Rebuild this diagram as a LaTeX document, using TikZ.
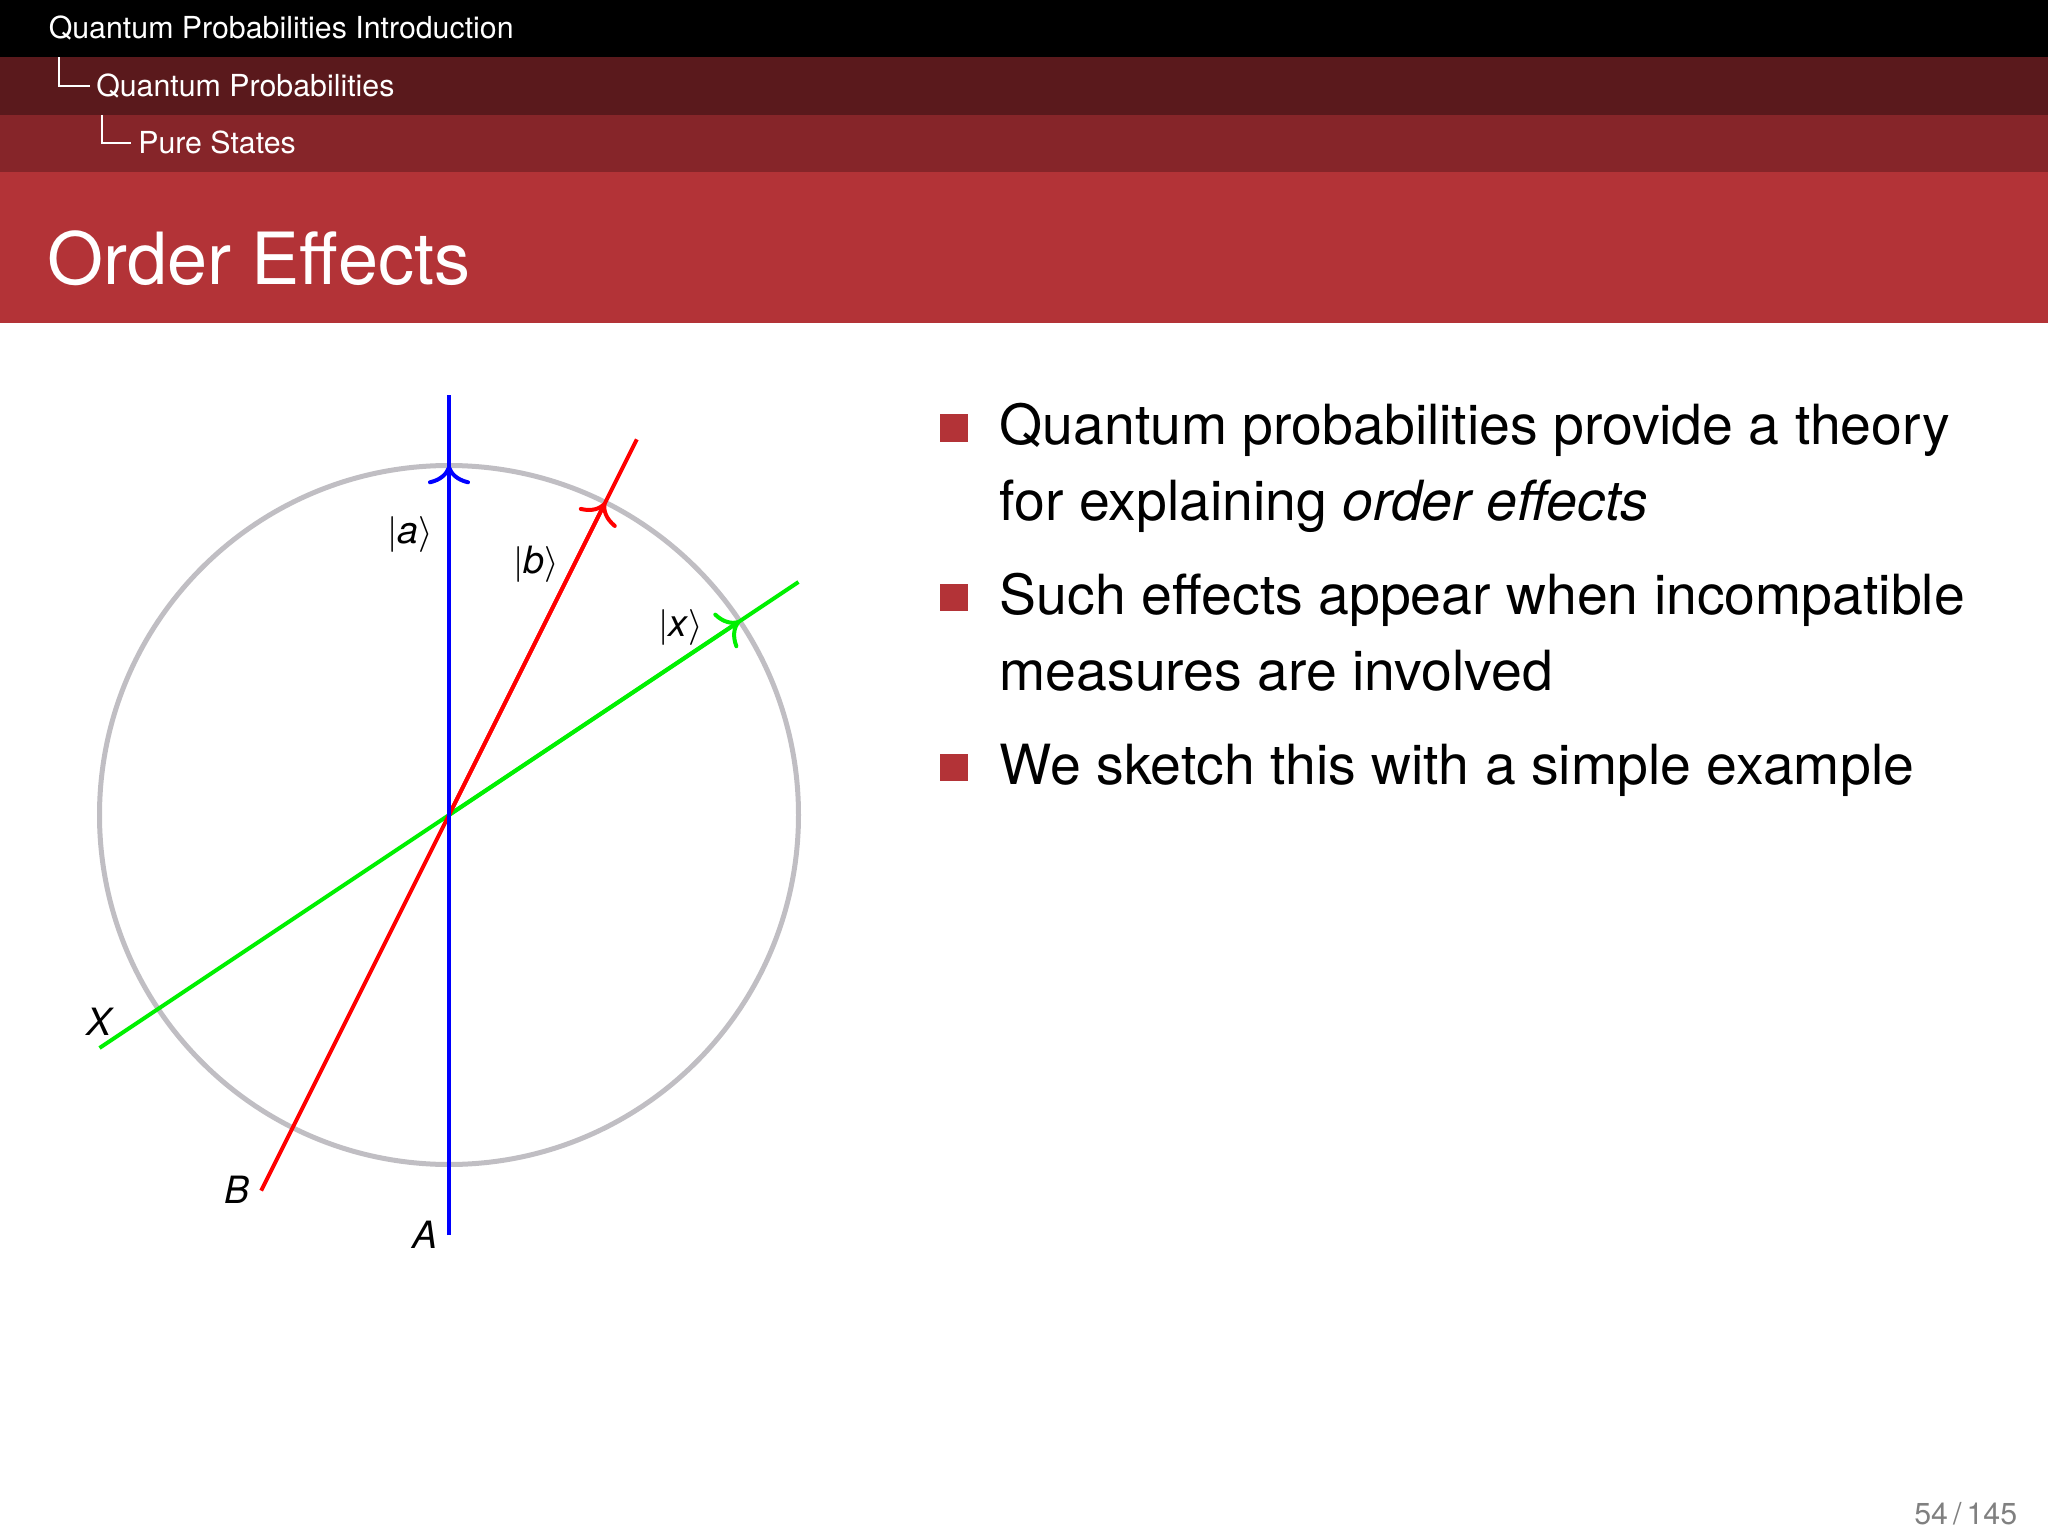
\documentclass[tikz,border=0pt]{standalone}
\usepackage{fontspec}
\setmainfont{TeX Gyre Heros}
\usetikzlibrary{arrows.meta}
\definecolor{hdrdark}{RGB}{90,25,28}
\definecolor{hdrmid}{RGB}{134,37,41}
\definecolor{titlered}{RGB}{179,51,55}
\definecolor{circgray}{RGB}{192,190,195}
\definecolor{pagegray}{RGB}{128,128,128}
\definecolor{lblue}{RGB}{0,0,255}
\definecolor{lred}{RGB}{255,0,0}
\definecolor{lgreen}{RGB}{0,240,0}
\begin{document}
\begin{tikzpicture}[x=0.25pt,y=0.25pt,
  hdrtext/.style={text=white, font=\fontsize{7.58}{9}\selectfont, inner sep=0, anchor=base west},
  titletext/.style={text=white, font=\fontsize{18}{21}\selectfont, inner sep=0, anchor=base west},
  bodytext/.style={font=\fontsize{13.84}{16}\selectfont, inner sep=0, anchor=base west},
  bulletsq/.style={fill=titlered, draw=none, minimum size=6.9pt, inner sep=0},
  treeline/.style={white, line width=0.4pt},
  vec/.style={line width=1pt},
  tipstyle/.style={-{To[length=4.7pt,width=10.5pt]}},
  lbl/.style={font=\fontsize{9.4}{11}\selectfont, inner sep=0}
]
\useasboundingbox (0,0) rectangle (2048,1536);
% header bars
\fill[black] (0,1478.5) rectangle (2048,1536);
\fill[hdrdark] (0,1421) rectangle (2048,1478.5);
\fill[hdrmid] (0,1364) rectangle (2048,1421);
\fill[titlered] (0,1213.4) rectangle (2048,1364);
\node[hdrtext] (h1) at (48,1497) {Quantum Probabilities Introduction};
\node[hdrtext] (h2) at (95.5,1439.4) {Quantum Probabilities};
\node[hdrtext] (h3) at (137.5,1382) {Pure States};
\draw[treeline] (59,1478.5) -- (59,1450) -- (90,1450);
\draw[treeline] (102,1421) -- (102,1393) -- (131,1393);
\node[titletext] (title) at (47,1251.3) {Order Effects};
% body
\node[bulletsq] (b1) at (954,1108) {};
\node[bulletsq] (b2) at (954,938.5) {};
\node[bulletsq] (b3) at (954,768.5) {};
\node[bodytext] (t1a) at (999,1092) {Quantum probabilities provide a theory};
\node[bodytext] (t1b) at (999,1016) {for explaining \textit{order effects}};
\node[bodytext] (t2a) at (999,922) {Such effects appear when incompatible};
\node[bodytext] (t2b) at (999,846) {measures are involved};
\node[bodytext] (t3a) at (999,752) {We sketch this with a simple example};
\node[font=\fontsize{7.58}{9}\selectfont, text=pagegray, inner sep=0, anchor=base east] (pg) at (2018,12) {54\,/\,145};
% diagram
\coordinate (O) at (449,721);
\draw[circgray, line width=1.25pt] (O) circle[radius=349.5];
\coordinate (Atop) at ([shift={(90:420)}]O);
\coordinate (Abot) at ([shift={(270:420)}]O);
\coordinate (Atip) at ([shift={(90:349.5)}]O);
\coordinate (Btop) at ([shift={(63.435:420)}]O);
\coordinate (Bbot) at ([shift={(243.435:420)}]O);
\coordinate (Btip) at ([shift={(63.435:349.5)}]O);
\coordinate (Xtop) at ([shift={(33.69:420)}]O);
\coordinate (Xbot) at ([shift={(213.69:420)}]O);
\coordinate (Xtip) at ([shift={(33.69:349.5)}]O);
\draw[vec, lgreen] (Xbot) -- (Xtop);
\draw[vec, lgreen, tipstyle] (O) -- (Xtip);
\draw[vec, lred] (Bbot) -- (Btop);
\draw[vec, lred, tipstyle] (O) -- (Btip);
\draw[vec, lblue] (Abot) -- (Atop);
\draw[vec, lblue, tipstyle] (O) -- (Atip);
\node[lbl] (la) at (410,1002) {$|$\textit{a}$\rangle$};
\node[lbl] (lb) at (536,972) {$|$\textit{b}$\rangle$};
\node[lbl] (lx) at (681,909) {$|$\textit{x}$\rangle$};
\node[lbl] (lX) at (100.5,514.5) {\textit{X}};
\node[lbl] (lB) at (237,346) {\textit{B}};
\node[lbl] (lA) at (425,301.5) {\textit{A}};
\end{tikzpicture}
\end{document}
